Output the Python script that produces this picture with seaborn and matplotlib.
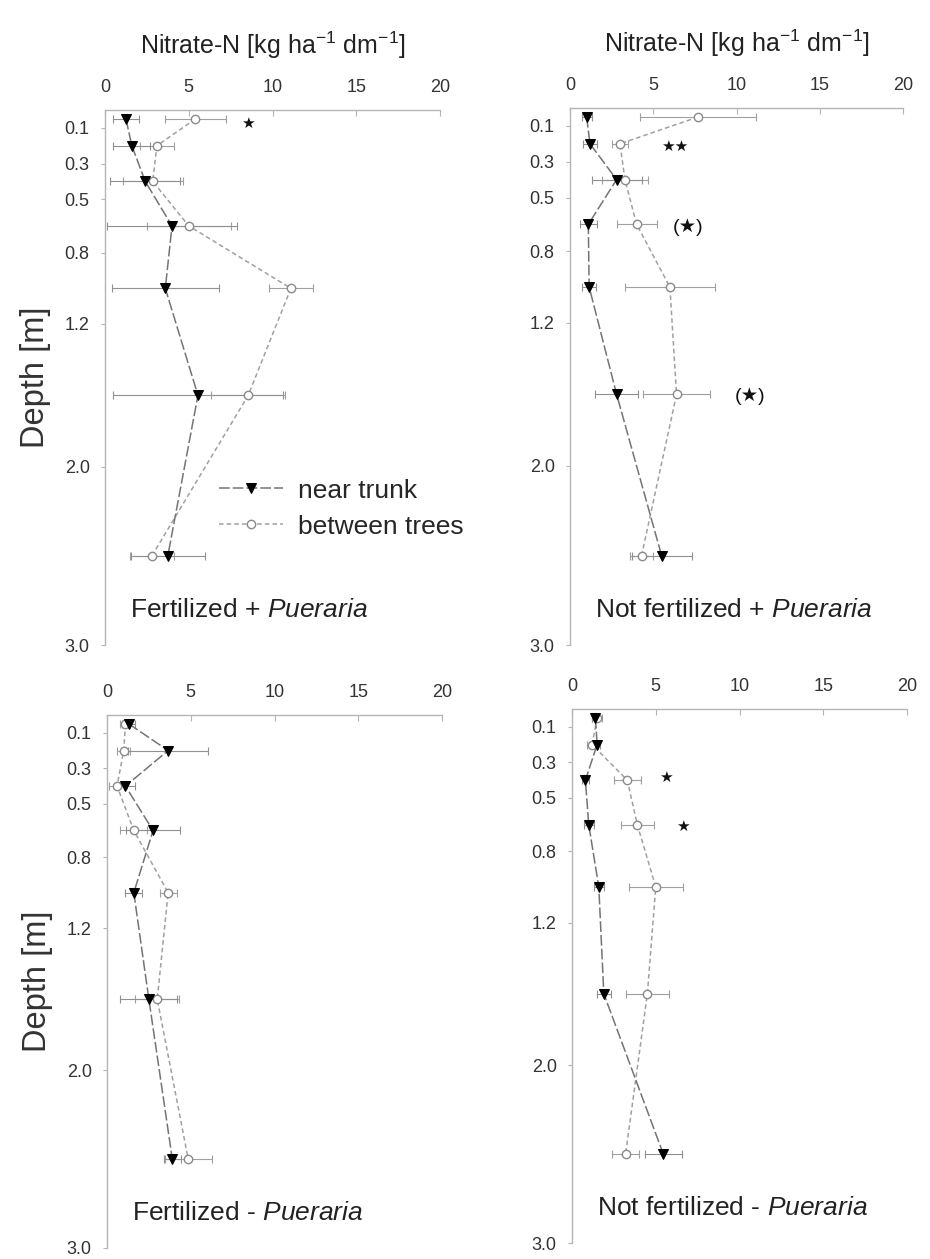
import numpy as np
import pandas as pd
import seaborn as sns
import matplotlib.pyplot as plt

# depth of each soil layer midpoint [m] and the layer boundaries used as ticks
depth = [0.05, 0.2, 0.4, 0.65, 1.0, 1.6, 2.5]
depth_ticks = [0.1, 0.3, 0.5, 0.8, 1.2, 2.0, 3.0]
depth_labels = ['0.1', '0.3', '0.5', '0.8', '1.2', '2.0', '3.0']
nitrate_ticks = [0, 5, 10, 15, 20]

panel_titles = ['Fertilized + $\\mathit{Pueraria}$',
                'Not fertilized + $\\mathit{Pueraria}$',
                'Fertilized - $\\mathit{Pueraria}$',
                'Not fertilized - $\\mathit{Pueraria}$']

# Fertilized + Pueraria
fp_near = [1.25, 1.6, 2.4, 4.0, 3.6, 5.55, 3.75]
fp_near_err = [0.8, 1.1, 2.1, 3.9, 3.2, 5.1, 2.2]
fp_betw = [5.4, 3.1, 2.85, 5.0, 11.1, 8.55, 2.8]
fp_betw_err = [1.8, 1.0, 1.8, 2.5, 1.3, 2.2, 1.3]

# Not fertilized + Pueraria
np_near = [1.0, 1.2, 2.8, 1.1, 1.15, 2.8, 5.5]
np_near_err = [0.3, 0.4, 1.5, 0.5, 0.4, 1.3, 1.8]
np_betw = [7.7, 3.0, 3.3, 4.0, 6.0, 6.4, 4.3]
np_betw_err = [3.5, 0.5, 1.4, 1.2, 2.7, 2.0, 0.7]

# Fertilized - Pueraria
fm_near = [1.3, 3.65, 1.1, 2.75, 1.6, 2.5, 3.9]
fm_near_err = [0.4, 2.4, 0.6, 1.6, 0.5, 1.7, 0.5]
fm_betw = [1.1, 1.0, 0.6, 1.6, 3.65, 3.0, 4.85]
fm_betw_err = [0.3, 0.4, 0.5, 0.8, 0.5, 1.3, 1.4]

# Not fertilized - Pueraria
nm_near = [1.4, 1.5, 0.8, 1.0, 1.6, 1.9, 5.45]
nm_near_err = [0.2, 0.2, 0.2, 0.3, 0.3, 0.4, 1.1]
nm_betw = [1.5, 1.2, 3.3, 3.9, 5.0, 4.5, 3.2]
nm_betw_err = [0.3, 0.3, 0.8, 1.0, 1.6, 1.3, 0.8]

# significance marks: (panel, nitrate, depth, text)
sig_marks = [(0, 8.5, 0.08, '★'),
             (1, 6.3, 0.22, '★★'),
             (1, 7.1, 0.665, '(★)'),
             (1, 10.8, 1.61, '(★)'),
             (3, 5.6, 0.39, '★'),
             (3, 6.6, 0.66, '★')]

panels = [(fp_near, fp_near_err, fp_betw, fp_betw_err),
          (np_near, np_near_err, np_betw, np_betw_err),
          (fm_near, fm_near_err, fm_betw, fm_betw_err),
          (nm_near, nm_near_err, nm_betw, nm_betw_err)]

sns.set_theme(style='white')
plt.rcParams['font.family'] = ['Liberation Sans', 'DejaVu Sans']
plt.rcParams['mathtext.fontset'] = 'custom'
plt.rcParams['mathtext.rm'] = 'Liberation Sans'
plt.rcParams['mathtext.it'] = 'Liberation Sans:italic'

W, H = 930, 1259
fig = plt.figure(figsize=(W / 100, H / 100), dpi=100)


def rect(l, t, r, b):
    return [l / W, 1 - b / H, (r - l) / W, (b - t) / H]


boxes = [rect(105, 110, 440, 645), rect(570, 108, 903, 645),
         rect(107, 715, 442, 1248), rect(572, 709, 907, 1243)]

spine_col = '#b5b5b5'

for i, (near, near_err, betw, betw_err) in enumerate(panels):
    ax = fig.add_axes(boxes[i])

    ax.errorbar(betw, depth, xerr=betw_err, fmt='none', ecolor='#a0a0a0',
                elinewidth=0.8, capsize=3, capthick=0.8, zorder=1)
    ax.errorbar(near, depth, xerr=near_err, fmt='none', ecolor='#909090',
                elinewidth=0.8, capsize=3, capthick=0.8, zorder=1)

    sns.lineplot(x=betw, y=depth, ax=ax, orient='y', sort=False,
                 color='#a0a0a0', lw=1.1, ls=(0, (3, 2)),
                 marker='o', markersize=6, markerfacecolor='white',
                 markeredgecolor='#8a8a8a', markeredgewidth=1,
                 label='between trees', zorder=2)
    sns.lineplot(x=near, y=depth, ax=ax, orient='y', sort=False,
                 color='#747474', lw=1.1, ls=(0, (7, 2)),
                 marker='v', markersize=7, markerfacecolor='black',
                 markeredgecolor='black', label='near trunk', zorder=3)

    ax.set_xlim(0, 20)
    ax.set_ylim(3.0, 0)
    ax.xaxis.tick_top()
    ax.set_xticks(nitrate_ticks)
    ax.set_yticks(depth_ticks)
    ax.set_yticklabels(depth_labels)
    ax.tick_params(axis='x', top=True, bottom=False, direction='in',
                   length=4, width=0.8, color=spine_col, pad=10,
                   labelsize=13, labelcolor='#333333')
    ax.tick_params(axis='y', left=True, direction='out', length=3,
                   width=0.8, color=spine_col, pad=8,
                   labelsize=13, labelcolor='#333333')
    for side in ['right', 'bottom']:
        ax.spines[side].set_visible(False)
    for side in ['top', 'left']:
        ax.spines[side].set_color(spine_col)
        ax.spines[side].set_linewidth(1)

    ax.set_xlabel('')
    ax.set_ylabel('')
    if i < 2:
        ax.set_xlabel('Nitrate-N [kg ha$^{-1}$ dm$^{-1}$]', fontsize=18,
                      color='#222222', labelpad=18)
        ax.xaxis.set_label_position('top')
    if i % 2 == 0:
        ax.set_ylabel('Depth [m]', fontsize=23.5, color='#333333',
                      labelpad=10)

    ax.text(0.075, 0.065, panel_titles[i], transform=ax.transAxes,
            fontsize=19, ha='left', va='center', color='#222222',
            clip_on=False)

    for p, x, y, s in sig_marks:
        if p == i:
            fs = 14 if s.startswith('(') else 11
            ax.text(x, y, s, fontsize=fs, ha='center', va='center',
                    color='#111111')

    if i == 0:
        handles, labels = ax.get_legend_handles_labels()
        order = [labels.index('near trunk'), labels.index('between trees')]
        ax.legend([handles[k] for k in order], [labels[k] for k in order],
                  loc='center left', bbox_to_anchor=(0.27, 0.255),
                  frameon=False, fontsize=19, handlelength=2.4,
                  labelspacing=0.45, handletextpad=0.6)
    else:
        leg = ax.get_legend()
        if leg is not None:
            leg.remove()

fig.savefig('out.png', dpi=100)
